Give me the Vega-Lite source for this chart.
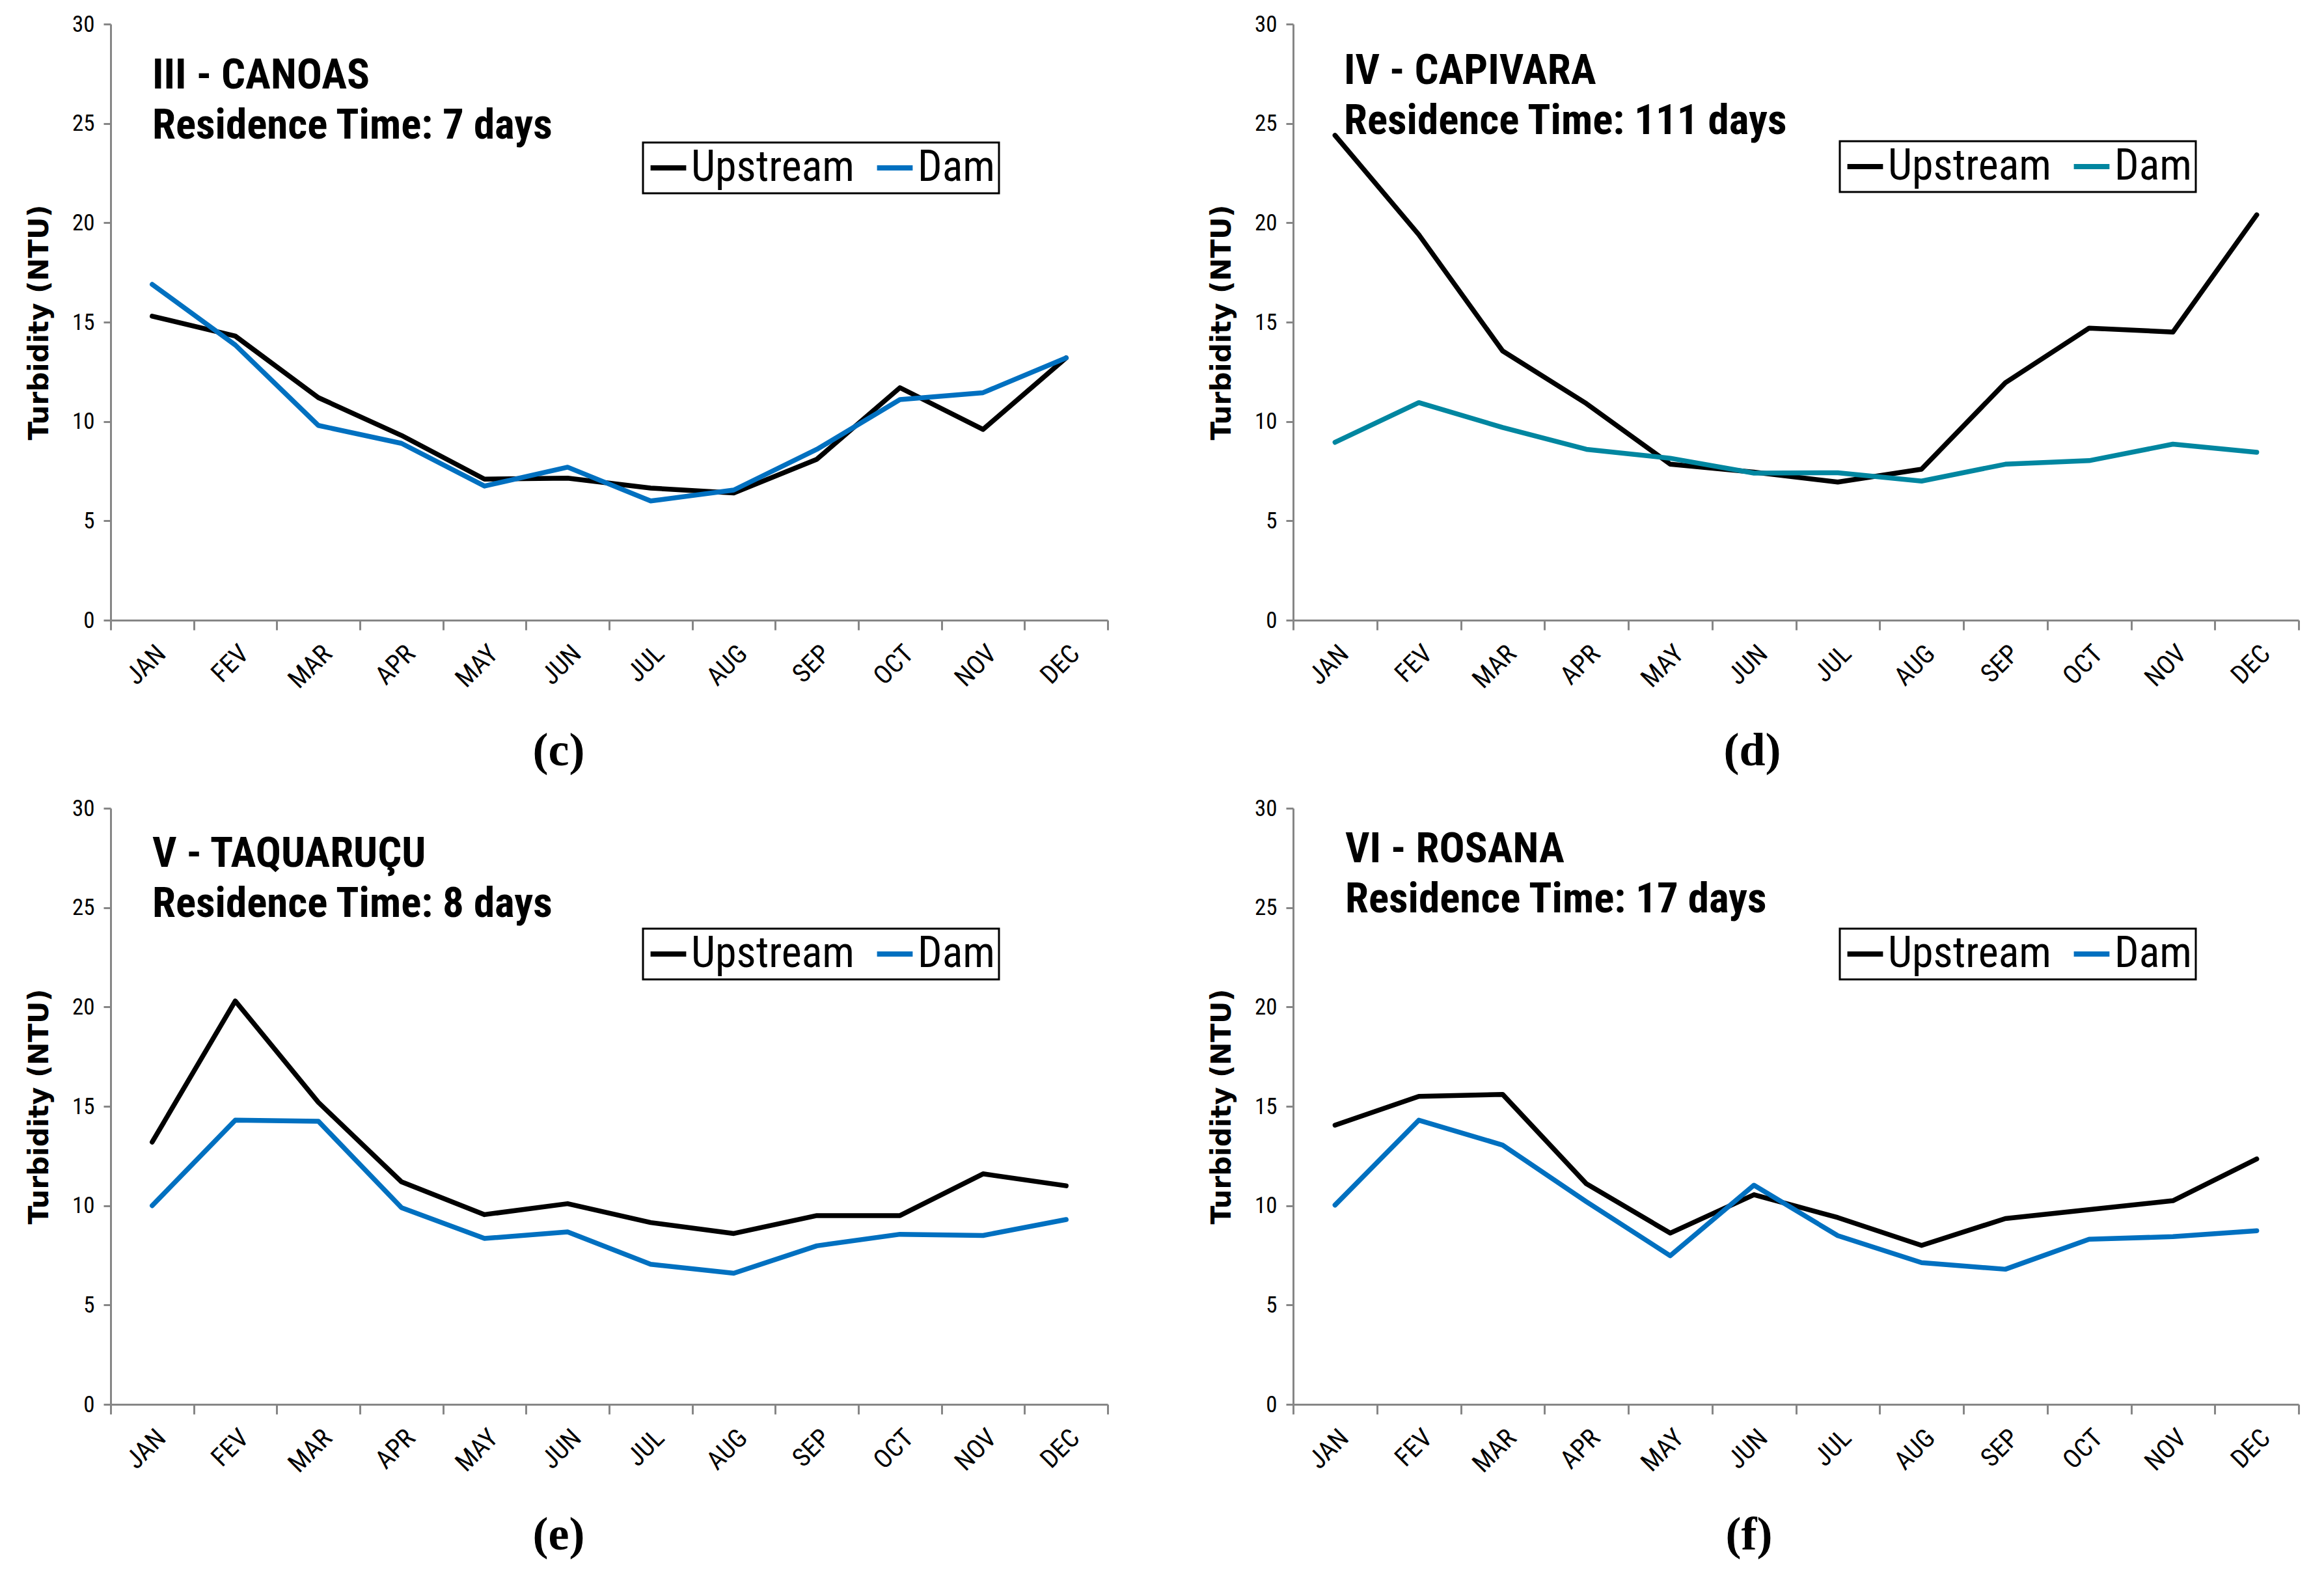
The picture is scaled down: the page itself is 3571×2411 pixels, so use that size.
{
  "$schema": "https://vega.github.io/schema/vega-lite/v6.json",
  "background": "white",
  "padding": {"left": 39, "top": 20, "right": 10, "bottom": 10},
  "datasets": {
    "canoas": [
      {"month": "JAN", "series": "Upstream", "turbidity": 15.3},
      {"month": "FEV", "series": "Upstream", "turbidity": 14.3},
      {"month": "MAR", "series": "Upstream", "turbidity": 11.2},
      {"month": "APR", "series": "Upstream", "turbidity": 9.3},
      {"month": "MAY", "series": "Upstream", "turbidity": 7.1},
      {"month": "JUN", "series": "Upstream", "turbidity": 7.15},
      {"month": "JUL", "series": "Upstream", "turbidity": 6.65},
      {"month": "AUG", "series": "Upstream", "turbidity": 6.4},
      {"month": "SEP", "series": "Upstream", "turbidity": 8.1},
      {"month": "OCT", "series": "Upstream", "turbidity": 11.7},
      {"month": "NOV", "series": "Upstream", "turbidity": 9.6},
      {"month": "DEC", "series": "Upstream", "turbidity": 13.2},
      {"month": "JAN", "series": "Dam", "turbidity": 16.9},
      {"month": "FEV", "series": "Dam", "turbidity": 13.85},
      {"month": "MAR", "series": "Dam", "turbidity": 9.8},
      {"month": "APR", "series": "Dam", "turbidity": 8.9},
      {"month": "MAY", "series": "Dam", "turbidity": 6.75},
      {"month": "JUN", "series": "Dam", "turbidity": 7.7},
      {"month": "JUL", "series": "Dam", "turbidity": 6.0},
      {"month": "AUG", "series": "Dam", "turbidity": 6.55},
      {"month": "SEP", "series": "Dam", "turbidity": 8.6},
      {"month": "OCT", "series": "Dam", "turbidity": 11.1},
      {"month": "NOV", "series": "Dam", "turbidity": 11.45},
      {"month": "DEC", "series": "Dam", "turbidity": 13.2}
    ],
    "capivara": [
      {"month": "JAN", "series": "Upstream", "turbidity": 24.4},
      {"month": "FEV", "series": "Upstream", "turbidity": 19.4},
      {"month": "MAR", "series": "Upstream", "turbidity": 13.55},
      {"month": "APR", "series": "Upstream", "turbidity": 10.9},
      {"month": "MAY", "series": "Upstream", "turbidity": 7.85},
      {"month": "JUN", "series": "Upstream", "turbidity": 7.45},
      {"month": "JUL", "series": "Upstream", "turbidity": 6.95},
      {"month": "AUG", "series": "Upstream", "turbidity": 7.6},
      {"month": "SEP", "series": "Upstream", "turbidity": 11.95},
      {"month": "OCT", "series": "Upstream", "turbidity": 14.7},
      {"month": "NOV", "series": "Upstream", "turbidity": 14.5},
      {"month": "DEC", "series": "Upstream", "turbidity": 20.4},
      {"month": "JAN", "series": "Dam", "turbidity": 8.95},
      {"month": "FEV", "series": "Dam", "turbidity": 10.95},
      {"month": "MAR", "series": "Dam", "turbidity": 9.7},
      {"month": "APR", "series": "Dam", "turbidity": 8.6},
      {"month": "MAY", "series": "Dam", "turbidity": 8.15},
      {"month": "JUN", "series": "Dam", "turbidity": 7.4},
      {"month": "JUL", "series": "Dam", "turbidity": 7.42},
      {"month": "AUG", "series": "Dam", "turbidity": 7.0},
      {"month": "SEP", "series": "Dam", "turbidity": 7.85},
      {"month": "OCT", "series": "Dam", "turbidity": 8.03},
      {"month": "NOV", "series": "Dam", "turbidity": 8.86},
      {"month": "DEC", "series": "Dam", "turbidity": 8.45}
    ],
    "taquarucu": [
      {"month": "JAN", "series": "Upstream", "turbidity": 13.2},
      {"month": "FEV", "series": "Upstream", "turbidity": 20.3},
      {"month": "MAR", "series": "Upstream", "turbidity": 15.2},
      {"month": "APR", "series": "Upstream", "turbidity": 11.2},
      {"month": "MAY", "series": "Upstream", "turbidity": 9.55},
      {"month": "JUN", "series": "Upstream", "turbidity": 10.1},
      {"month": "JUL", "series": "Upstream", "turbidity": 9.15},
      {"month": "AUG", "series": "Upstream", "turbidity": 8.6},
      {"month": "SEP", "series": "Upstream", "turbidity": 9.5},
      {"month": "OCT", "series": "Upstream", "turbidity": 9.5},
      {"month": "NOV", "series": "Upstream", "turbidity": 11.6},
      {"month": "DEC", "series": "Upstream", "turbidity": 11.0},
      {"month": "JAN", "series": "Dam", "turbidity": 10.0},
      {"month": "FEV", "series": "Dam", "turbidity": 14.3},
      {"month": "MAR", "series": "Dam", "turbidity": 14.25},
      {"month": "APR", "series": "Dam", "turbidity": 9.9},
      {"month": "MAY", "series": "Dam", "turbidity": 8.35},
      {"month": "JUN", "series": "Dam", "turbidity": 8.68},
      {"month": "JUL", "series": "Dam", "turbidity": 7.05},
      {"month": "AUG", "series": "Dam", "turbidity": 6.6},
      {"month": "SEP", "series": "Dam", "turbidity": 7.98},
      {"month": "OCT", "series": "Dam", "turbidity": 8.56},
      {"month": "NOV", "series": "Dam", "turbidity": 8.5},
      {"month": "DEC", "series": "Dam", "turbidity": 9.3}
    ],
    "rosana": [
      {"month": "JAN", "series": "Upstream", "turbidity": 14.05},
      {"month": "FEV", "series": "Upstream", "turbidity": 15.5},
      {"month": "MAR", "series": "Upstream", "turbidity": 15.6},
      {"month": "APR", "series": "Upstream", "turbidity": 11.1},
      {"month": "MAY", "series": "Upstream", "turbidity": 8.62},
      {"month": "JUN", "series": "Upstream", "turbidity": 10.55},
      {"month": "JUL", "series": "Upstream", "turbidity": 9.4},
      {"month": "AUG", "series": "Upstream", "turbidity": 8.0},
      {"month": "SEP", "series": "Upstream", "turbidity": 9.35},
      {"month": "OCT", "series": "Upstream", "turbidity": 9.8},
      {"month": "NOV", "series": "Upstream", "turbidity": 10.25},
      {"month": "DEC", "series": "Upstream", "turbidity": 12.35},
      {"month": "JAN", "series": "Dam", "turbidity": 10.03},
      {"month": "FEV", "series": "Dam", "turbidity": 14.3},
      {"month": "MAR", "series": "Dam", "turbidity": 13.05},
      {"month": "APR", "series": "Dam", "turbidity": 10.2},
      {"month": "MAY", "series": "Dam", "turbidity": 7.48},
      {"month": "JUN", "series": "Dam", "turbidity": 11.03},
      {"month": "JUL", "series": "Dam", "turbidity": 8.49},
      {"month": "AUG", "series": "Dam", "turbidity": 7.13},
      {"month": "SEP", "series": "Dam", "turbidity": 6.8},
      {"month": "OCT", "series": "Dam", "turbidity": 8.31},
      {"month": "NOV", "series": "Dam", "turbidity": 8.44},
      {"month": "DEC", "series": "Dam", "turbidity": 8.74}
    ]
  },
  "config": {
    "view": {"stroke": null},
    "axisX": {
      "tickBand": "extent", "labelAngle": -45, "labelFont": "'Roboto Condensed', 'DejaVu Sans Condensed', 'Liberation Sans'", "labelFontSize": 40,
      "labelColor": "black", "labelPadding": 16, "domainColor": "#868686", "domainWidth": 3,
      "tickColor": "#868686", "tickWidth": 3, "tickSize": 15, "grid": false,
      "titleFont": "Liberation Serif", "titleFontSize": 72, "titleFontWeight": "bold", "titleColor": "black",
      "titleY": 200, "titleBaseline": "middle"
    },
    "axisY": {
      "labelFont": "'Roboto Condensed', 'DejaVu Sans Condensed', 'Liberation Sans'", "labelFontSize": 35, "labelColor": "black", "labelPadding": 14,
      "domainColor": "#868686", "domainWidth": 3, "tickColor": "#868686", "tickWidth": 3, "tickSize": 11,
      "grid": false, "titleFont": "DejaVu Sans", "titleFontSize": 42, "titleFontWeight": "bold",
      "titleColor": "black", "titlePadding": 28
    },
    "legend": {
      "orient": "none", "direction": "horizontal", "strokeColor": "black", "strokeWidth": 3, "fillColor": "white",
      "padding": 6, "symbolType": "stroke", "symbolSize": 3000, "symbolStrokeWidth": 8,
      "labelFont": "'Roboto Condensed', 'DejaVu Sans Condensed', 'Liberation Sans'", "labelFontSize": 66, "labelColor": "black", "labelOffset": 2,
      "labelLimit": 1000, "columnPadding": 18
    },
    "title": {
      "anchor": "start", "frame": "group", "orient": "top", "offset": 0, "baseline": "top",
      "font": "'Roboto Condensed', 'DejaVu Sans Condensed', 'Liberation Sans'", "fontSize": 65, "fontWeight": "bold", "color": "black", "lineHeight": 77
    }
  },
  "bounds": "flush",
  "columns": 2,
  "spacing": {"row": 289, "column": 285},
  "resolve": {"scale": {"color": "independent"}, "legend": {"color": "independent"}},
  "concat": [
    {
      "width": 1532, "height": 916,
      "title": {"text": ["III - CANOAS", "Residence Time: 7 days"], "dx": 64, "dy": 211},
      "data": {"name": "canoas"},
      "mark": {"type": "line", "strokeWidth": 7.5, "strokeJoin": "round", "strokeCap": "round"},
      "encoding": {
        "x": {"field": "month", "type": "ordinal", "sort": ["JAN","FEV","MAR","APR","MAY","JUN","JUL","AUG","SEP","OCT","NOV","DEC"],
              "scale": {"type": "band", "paddingInner": 0, "paddingOuter": 0}, "bandPosition": 0.5,
              "axis": {"title": "(c)", "titleX": 688}},
        "y": {"field": "turbidity", "type": "quantitative", "scale": {"domain": [0, 30], "nice": false},
              "axis": {"title": "Turbidity (NTU)", "values": [0, 5, 10, 15, 20, 25, 30]}},
        "color": {"field": "series", "type": "nominal",
                  "scale": {"domain": ["Upstream", "Dam"], "range": ["#000000", "#0070C0"]},
                  "legend": {"title": null, "legendX": 818, "legendY": 182}}
      }
    },
    {
      "width": 1545, "height": 916,
      "title": {"text": ["IV - CAPIVARA", "Residence Time: 111 days"], "dx": 78, "dy": 204},
      "data": {"name": "capivara"},
      "mark": {"type": "line", "strokeWidth": 7.5, "strokeJoin": "round", "strokeCap": "round"},
      "encoding": {
        "x": {"field": "month", "type": "ordinal", "sort": ["JAN","FEV","MAR","APR","MAY","JUN","JUL","AUG","SEP","OCT","NOV","DEC"],
              "scale": {"type": "band", "paddingInner": 0, "paddingOuter": 0}, "bandPosition": 0.5,
              "axis": {"title": "(d)", "titleX": 705}},
        "y": {"field": "turbidity", "type": "quantitative", "scale": {"domain": [0, 30], "nice": false},
              "axis": {"title": "Turbidity (NTU)", "values": [0, 5, 10, 15, 20, 25, 30]}},
        "color": {"field": "series", "type": "nominal",
                  "scale": {"domain": ["Upstream", "Dam"], "range": ["#000000", "#0086A0"]},
                  "legend": {"title": null, "legendX": 840, "legendY": 180}}
      }
    },
    {
      "width": 1532, "height": 916,
      "title": {"text": ["V - TAQUARUÇU", "Residence Time: 8 days"], "dx": 64, "dy": 202},
      "data": {"name": "taquarucu"},
      "mark": {"type": "line", "strokeWidth": 7.5, "strokeJoin": "round", "strokeCap": "round"},
      "encoding": {
        "x": {"field": "month", "type": "ordinal", "sort": ["JAN","FEV","MAR","APR","MAY","JUN","JUL","AUG","SEP","OCT","NOV","DEC"],
              "scale": {"type": "band", "paddingInner": 0, "paddingOuter": 0}, "bandPosition": 0.5,
              "axis": {"title": "(e)", "titleX": 688}},
        "y": {"field": "turbidity", "type": "quantitative", "scale": {"domain": [0, 30], "nice": false},
              "axis": {"title": "Turbidity (NTU)", "values": [0, 5, 10, 15, 20, 25, 30]}},
        "color": {"field": "series", "type": "nominal",
                  "scale": {"domain": ["Upstream", "Dam"], "range": ["#000000", "#0070C0"]},
                  "legend": {"title": null, "legendX": 818, "legendY": 185}}
      }
    },
    {
      "width": 1545, "height": 916,
      "title": {"text": ["VI - ROSANA", "Residence Time: 17 days"], "dx": 80, "dy": 195},
      "data": {"name": "rosana"},
      "mark": {"type": "line", "strokeWidth": 7.5, "strokeJoin": "round", "strokeCap": "round"},
      "encoding": {
        "x": {"field": "month", "type": "ordinal", "sort": ["JAN","FEV","MAR","APR","MAY","JUN","JUL","AUG","SEP","OCT","NOV","DEC"],
              "scale": {"type": "band", "paddingInner": 0, "paddingOuter": 0}, "bandPosition": 0.5,
              "axis": {"title": "(f)", "titleX": 700}},
        "y": {"field": "turbidity", "type": "quantitative", "scale": {"domain": [0, 30], "nice": false},
              "axis": {"title": "Turbidity (NTU)", "values": [0, 5, 10, 15, 20, 25, 30]}},
        "color": {"field": "series", "type": "nominal",
                  "scale": {"domain": ["Upstream", "Dam"], "range": ["#000000", "#0070C0"]},
                  "legend": {"title": null, "legendX": 840, "legendY": 185}}
      }
    }
  ]
}
